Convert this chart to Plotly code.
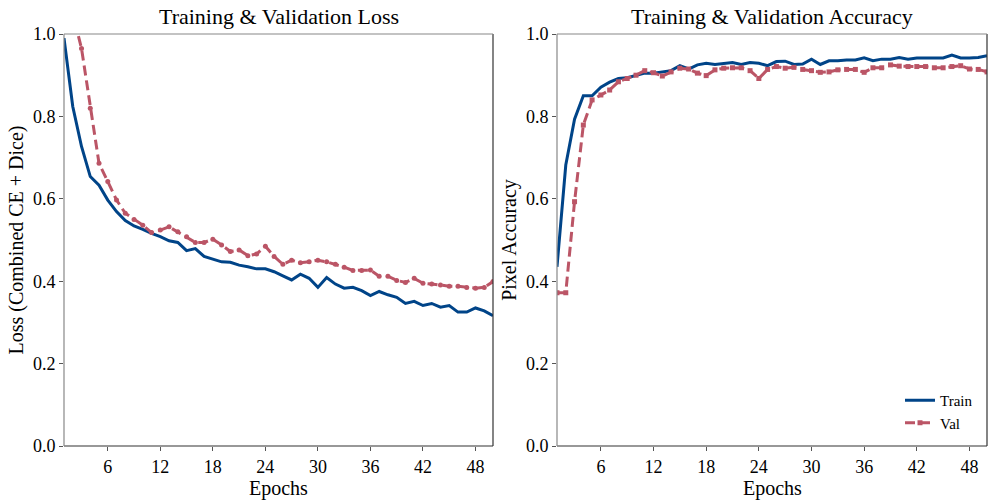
import plotly.graph_objects as go

epochs = list(range(1, 51))

train_loss = [
    0.990, 0.824, 0.727, 0.654, 0.633, 0.597, 0.569, 0.547, 0.534, 0.526,
    0.516, 0.508, 0.498, 0.494, 0.474, 0.479, 0.460, 0.453, 0.447, 0.446,
    0.439, 0.435, 0.430, 0.430, 0.423, 0.413, 0.403, 0.417, 0.407, 0.385,
    0.409, 0.393, 0.383, 0.385, 0.377, 0.365, 0.375, 0.367, 0.361, 0.346,
    0.351, 0.341, 0.346, 0.337, 0.341, 0.325, 0.325, 0.335, 0.328, 0.316,
]
val_loss = [
    1.320, 1.050, 0.965, 0.820, 0.686, 0.642, 0.597, 0.565, 0.550, 0.536,
    0.518, 0.524, 0.532, 0.520, 0.508, 0.494, 0.494, 0.502, 0.488, 0.472,
    0.476, 0.462, 0.466, 0.485, 0.460, 0.441, 0.451, 0.445, 0.447, 0.451,
    0.447, 0.441, 0.434, 0.426, 0.426, 0.427, 0.412, 0.412, 0.402, 0.397,
    0.407, 0.395, 0.393, 0.391, 0.388, 0.388, 0.385, 0.383, 0.385, 0.399,
]
train_acc = [
    0.435, 0.682, 0.793, 0.850, 0.850, 0.871, 0.883, 0.892, 0.894, 0.900,
    0.905, 0.905, 0.908, 0.911, 0.923, 0.915, 0.925, 0.929, 0.926, 0.929,
    0.931, 0.926, 0.931, 0.929, 0.923, 0.933, 0.934, 0.926, 0.927, 0.939,
    0.926, 0.935, 0.935, 0.937, 0.937, 0.942, 0.935, 0.939, 0.939, 0.943,
    0.939, 0.942, 0.942, 0.942, 0.942, 0.949, 0.942, 0.942, 0.943, 0.947,
]
val_acc = [
    0.372, 0.372, 0.593, 0.779, 0.840, 0.852, 0.864, 0.884, 0.892, 0.900,
    0.911, 0.906, 0.898, 0.908, 0.917, 0.915, 0.905, 0.899, 0.913, 0.917,
    0.918, 0.918, 0.911, 0.892, 0.914, 0.921, 0.917, 0.919, 0.914, 0.911,
    0.907, 0.908, 0.913, 0.914, 0.914, 0.907, 0.918, 0.918, 0.925, 0.922,
    0.921, 0.921, 0.921, 0.918, 0.918, 0.921, 0.923, 0.915, 0.914, 0.908,
]

x_ticks = [6, 12, 18, 24, 30, 36, 42, 48]
y_ticks = [0.0, 0.2, 0.4, 0.6, 0.8, 1.0]

BLUE = "#004488"
RED = "#BB5566"
FONT = "Liberation Serif"
W, H = 997, 504

# plot boxes in pixels (left, right, top, bottom)
box_l = (64, 493, 34, 446)
box_r = (557, 987, 34, 446)


def xd(b):
    return [b[0] / W, b[1] / W]


def yd(b):
    return [1 - b[3] / H, 1 - b[2] / H]


fig = go.Figure()

fig.add_trace(go.Scatter(x=epochs, y=train_loss, mode="lines", name="Train",
                         line=dict(color=BLUE, width=3), xaxis="x", yaxis="y",
                         showlegend=False))
fig.add_trace(go.Scatter(x=epochs, y=val_loss, mode="lines+markers", name="Val",
                         line=dict(color=RED, width=3, dash="10px,5px"),
                         marker=dict(symbol="circle", size=5, color=RED),
                         xaxis="x", yaxis="y", showlegend=False))
fig.add_trace(go.Scatter(x=epochs, y=train_acc, mode="lines", name="Train",
                         line=dict(color=BLUE, width=3), xaxis="x2", yaxis="y2"))
fig.add_trace(go.Scatter(x=epochs, y=val_acc, mode="lines+markers", name="Val",
                         line=dict(color=RED, width=3, dash="10px,5px"),
                         marker=dict(symbol="square", size=5, color=RED),
                         xaxis="x2", yaxis="y2"))

ax_common = dict(showgrid=False, zeroline=False, showline=False, automargin=False,
                 ticks="outside", ticklen=4, tickwidth=1, tickcolor="#555",
                 tickfont=dict(family=FONT, size=18, color="black"))
lab = dict(size=20)


def text_at(txt, x, y, size):
    return dict(text=txt, x=x, y=y, xref="paper", yref="paper", xanchor="center",
                yanchor="middle", showarrow=False, font=dict(size=size))


fig.update_layout(
    template="none",
    width=W, height=H,
    margin=dict(l=0, r=0, t=0, b=0, pad=0),
    paper_bgcolor="white", plot_bgcolor="white",
    font=dict(family=FONT, color="black"),
    xaxis=dict(domain=xd(box_l), range=[1, 50], tickvals=x_ticks, anchor="y", **ax_common),
    yaxis=dict(domain=yd(box_l), range=[0, 1], tickvals=y_ticks, tickformat=".1f",
               anchor="x", title=dict(text="Loss (Combined CE + Dice)", font=lab,
                                      standoff=3), **ax_common),
    xaxis2=dict(domain=xd(box_r), range=[1, 50], tickvals=x_ticks, anchor="y2", **ax_common),
    yaxis2=dict(domain=yd(box_r), range=[0, 1], tickvals=y_ticks, tickformat=".1f",
                anchor="x2", title=dict(text="Pixel Accuracy", font=lab,
                                        standoff=3), **ax_common),
    legend=dict(x=978 / W, xanchor="right", y=1 - 439 / H, yanchor="bottom",
                bgcolor="rgba(0,0,0,0)", font=dict(family=FONT, size=15),
                tracegroupgap=0),
    annotations=[
        text_at("Training & Validation Loss", sum(xd(box_l)) / 2, 1 - 17 / H, 22),
        text_at("Training & Validation Accuracy", sum(xd(box_r)) / 2, 1 - 17 / H, 22),
        # x-axis titles placed as text so they sit as close to the ticks as in the original
        text_at("Epochs", sum(xd(box_l)) / 2, 1 - 488 / H, 20),
        text_at("Epochs", sum(xd(box_r)) / 2, 1 - 488 / H, 20),
    ],
)

# spines: top/left look lighter than bottom/right in the reference
for xa in ["x", "x2"]:
    dom = xa + " domain"
    ya = "y" if xa == "x" else "y2"
    ydom = ya + " domain"
    fig.add_shape(type="line", xref=dom, yref=ydom, x0=0, x1=1, y0=0, y1=0,
                  line=dict(color="#333", width=1.2))
    fig.add_shape(type="line", xref=dom, yref=ydom, x0=1, x1=1, y0=0, y1=1,
                  line=dict(color="#333", width=1.2))
    fig.add_shape(type="line", xref=dom, yref=ydom, x0=0, x1=1, y0=1, y1=1,
                  line=dict(color="#888", width=1.2))
    fig.add_shape(type="line", xref=dom, yref=ydom, x0=0, x1=0, y0=0, y1=1,
                  line=dict(color="#888", width=1.2))

# drop the browser's default 8px body margin so the figure sits at the page corner
fig.write_html("out.html", config={"displayModeBar": False},
               post_script="document.body.style.margin='0';")
